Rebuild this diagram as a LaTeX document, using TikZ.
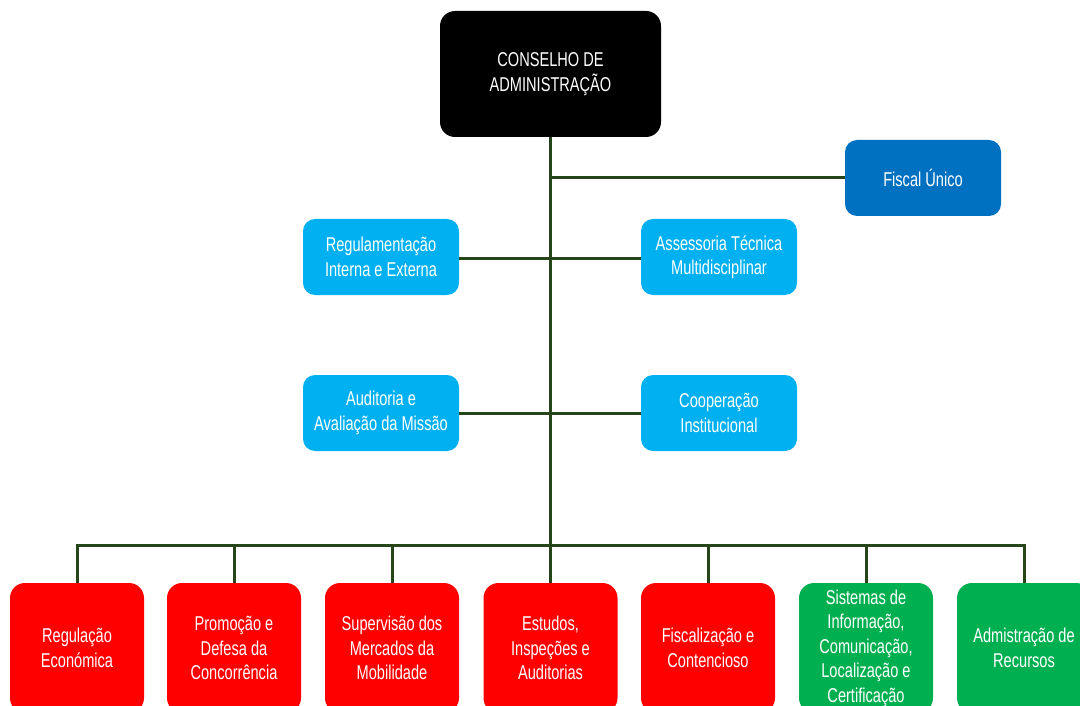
\documentclass[tikz,border=0pt]{standalone}
\usepackage{fontspec}
\setmainfont{Liberation Sans}[FakeStretch=0.73]
\definecolor{linec}{RGB}{38,70,25}
\definecolor{darkblue}{RGB}{0,112,192}
\definecolor{lightblue}{RGB}{0,176,240}
\definecolor{redc}{RGB}{255,0,0}
\definecolor{greenc}{RGB}{0,176,80}
\tikzset{
  box/.style={rounded corners=12pt, text=white, align=center, inner sep=0pt,
    font=\fontsize{20}{24.5}\selectfont},
  midbox/.style={box, fill=lightblue, minimum width=156pt, minimum height=76pt},
  lowbox/.style={box, rounded corners=15pt, minimum width=134pt, minimum height=130pt},
  redbox/.style={lowbox, fill=redc},
  greenbox/.style={lowbox, fill=greenc},
  conn/.style={draw=linec, line width=3pt}
}
\begin{document}
\begin{tikzpicture}[x=1pt,y=-1pt]
\useasboundingbox (0,0) rectangle (1080,706);
\clip (0,0) rectangle (1080,706);
\fill[white] (0,0) rectangle (1080,706);

\node[box, fill=black, rounded corners=15pt, minimum width=221pt, minimum height=126pt] (cons) at (550.5,74) {CONSELHO DE\\ADMINISTRAÇÃO};
\node[box, fill=darkblue, minimum width=156pt, minimum height=76pt] (fiscal) at (923,178) {Fiscal Único};
\node[midbox] (reg) at (381,257) {Regulamentação\\Interna e Externa};
\node[midbox] (ass) at (719,257) {Assessoria Técnica\\Multidisciplinar};
\node[midbox] (aud) at (381,413) {Auditoria e\\Avaliação da Missão};
\node[midbox] (coop) at (719,413) {Cooperação\\Institucional};

\node[redbox] (b1) at (77,648) {Regulação\\Económica};
\node[redbox] (b2) at (234,648) {Promoção e\\Defesa da\\Concorrência};
\node[redbox] (b3) at (392,648) {Supervisão dos\\Mercados da\\Mobilidade};
\node[redbox] (b4) at (550.5,648) {Estudos,\\Inspeções e\\Auditorias};
\node[redbox] (b5) at (708,648) {Fiscalização e\\Contencioso};
\node[greenbox] (b6) at (866,648) {Sistemas de\\Informação,\\Comunicação,\\Localização e\\Certificação};
\node[greenbox] (b7) at (1024,648) {Admistração de\\Recursos};

\coordinate (bus) at (550.5,545);

% trunk
\draw[conn] (cons.south) -- (b4.north);
% staff connectors
\draw[conn] (fiscal.west) -- (fiscal.west -| cons.south);
\draw[conn] ([yshift=-1pt]reg.east) -- ([yshift=-1pt]ass.west);
\draw[conn] (aud.east) -- (coop.west);
% bus
\draw[conn] (b1.north) |- (bus) -| (b7.north);
\foreach \b in {b2,b3,b5,b6}
  \draw[conn] (\b.north) -- (\b.north |- bus);
\end{tikzpicture}
\end{document}
